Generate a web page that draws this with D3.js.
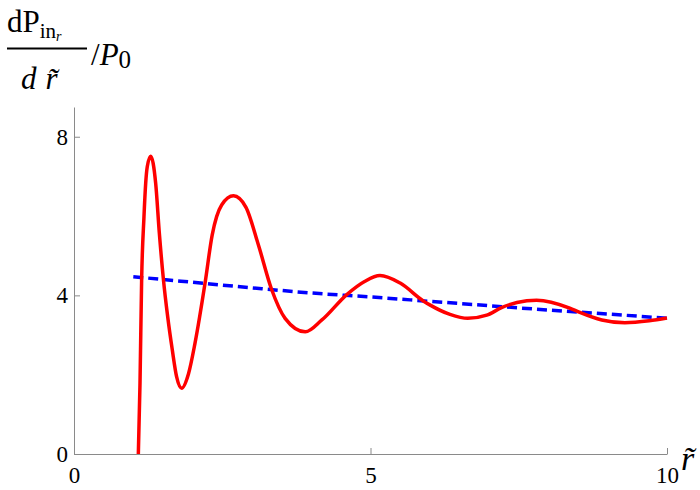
<!DOCTYPE html>
<html>
<head>
<meta charset="utf-8">
<script src="https://cdn.jsdelivr.net/npm/d3@7"></script>
<style>
  html, body { margin: 0; padding: 0; background: #fff; }
  svg { display: block; }
  svg text { font-family: 'Liberation Serif', 'Times New Roman', Tinos, serif !important; }
</style>
</head>
<body>
<svg id="chart" width="700" height="490"></svg>
<script>
// ---- data ----
const xTicks = [0, 5, 10];
const yTicks = [0, 4, 8];
const xDomain = [0, 10];
const yDomain = [0, 8.75];

// oscillating curve (red, solid)
const redX = [1.085, 1.113, 1.141, 1.18, 1.209, 1.236, 1.293, 1.377, 1.439, 1.506, 1.58, 1.658, 1.73, 1.816,
              1.93, 2.04, 2.21, 2.33, 2.49, 2.69, 2.90, 3.11, 3.33, 3.56, 3.90,
              4.18, 4.6, 4.9, 5.16, 5.5, 5.89, 6.0, 6.34, 6.64,
              6.96, 7.21, 7.47, 7.80, 8.36, 8.53, 8.9, 9.29, 9.7, 10];
const redY = [0, 1.78, 4.43, 5.98, 6.83, 7.25, 7.51, 6.83, 5.57, 4.43, 3.46, 2.62, 1.95, 1.66,
              2.02, 2.79, 4.31, 5.52, 6.28, 6.51, 6.22, 5.27, 4.16, 3.42, 3.08,
              3.38, 4.02, 4.35, 4.5, 4.31, 3.86, 3.76, 3.52, 3.42,
              3.50, 3.69, 3.82, 3.88, 3.68, 3.57, 3.38, 3.31, 3.36, 3.43];

// averaged curve (blue, dashed)
const blueX = [1, 2, 3, 4, 5, 6, 7, 8, 9, 10];
const blueY = [4.47, 4.33, 4.19, 4.06, 3.96, 3.85, 3.74, 3.63, 3.53, 3.42];

// ---- drawing ----
const FONT = "Liberation Serif";
const svg = d3.select("#chart");
const x = d3.scaleLinear().domain(xDomain).range([74, 667]);
const y = d3.scaleLinear().domain(yDomain).range([454, 107]);

function styleAxis(g) {
  g.attr("font-family", FONT).attr("font-size", 23);
  g.selectAll("text").attr("font-family", FONT).attr("font-size", 23).attr("fill", "#000");
  g.selectAll("path, line").attr("stroke", "#8a8a8a").attr("stroke-width", 1);
}

svg.append("g")
  .attr("transform", `translate(0,${y(0)})`)
  .call(d3.axisBottom(x).tickValues(xTicks).tickFormat(d3.format("d"))
        .tickSize(-6).tickSizeOuter(0).tickPadding(13))
  .call(styleAxis);

svg.append("g")
  .attr("transform", `translate(${x(0)},0)`)
  .call(d3.axisLeft(y).tickValues(yTicks).tickFormat(d3.format("d"))
        .tickSize(-6).tickSizeOuter(0).tickPadding(6))
  .call(styleAxis);

const redPts = redX.map((d, i) => [d, redY[i]]);
const bluePts = blueX.map((d, i) => [d, blueY[i]]);

const line = d3.line().x(d => x(d[0])).y(d => y(d[1])).curve(d3.curveMonotoneX);

svg.append("path").datum(bluePts)
  .attr("d", line)
  .attr("fill", "none")
  .attr("stroke", "#0000ff")
  .attr("stroke-width", 3.5)
  .attr("stroke-dasharray", "10,5");

svg.append("path").datum(redPts)
  .attr("d", line)
  .attr("fill", "none")
  .attr("stroke", "#ff0000")
  .attr("stroke-width", 3.5)
  .attr("stroke-linejoin", "round");

// x-axis label: r with tilde
svg.append("text")
  .attr("font-family", FONT)
  .attr("x", 681).attr("y", 470)
  .attr("font-size", 34).attr("font-style", "italic")
  .text("r\u0303");

// y-axis label: dP_{in_r} / d r~  / P_0
const yl = svg.append("g").attr("fill", "#000");
const num = yl.append("text").attr("font-family", FONT).attr("x", 7).attr("y", 32).attr("font-size", 31);
num.append("tspan").text("dP");
num.append("tspan").attr("font-size", 21).attr("dy", 6).text("in");
num.append("tspan").attr("font-size", 14).attr("font-style", "italic").attr("dy", 3).text("r");

yl.append("line").attr("x1", 7).attr("x2", 87).attr("y1", 48.5).attr("y2", 48.5)
  .attr("stroke", "#000").attr("stroke-width", 1.8);

const den = yl.append("text").attr("font-family", FONT).attr("x", 21).attr("y", 89)
  .attr("font-size", 31).attr("font-style", "italic");
den.append("tspan").text("d");
den.append("tspan").attr("dx", 9).text("r\u0303");

const rest = yl.append("text").attr("font-family", FONT).attr("x", 91).attr("y", 65).attr("font-size", 31);
rest.append("tspan").text("/");
rest.append("tspan").attr("font-style", "italic").text("P");
rest.append("tspan").attr("font-size", 25).attr("dy", 3).text("0");
</script>
</body>
</html>
